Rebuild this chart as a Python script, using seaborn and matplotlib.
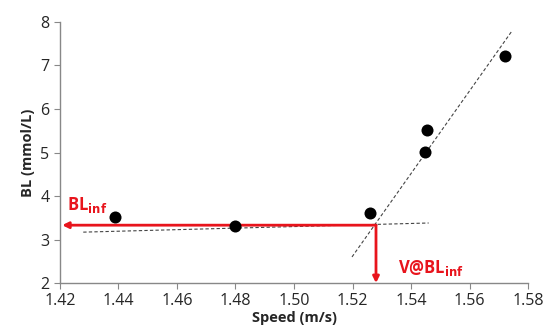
import matplotlib
matplotlib.use("Agg")
import numpy as np
import pandas as pd
import matplotlib.pyplot as plt
import seaborn as sns

# Data
speed = [1.439, 1.480, 1.526, 1.5448, 1.5455, 1.572]
lactate = [3.52, 3.31, 3.61, 5.01, 5.52, 7.22]

# Trend line endpoints (baseline and steep segment)
base_x = [1.428, 1.546]
base_y = [3.17, 3.38]
steep_x = [1.5198, 1.5742]
steep_y = [2.60, 7.77]

# Threshold (intersection)
v_bl_inf = 1.528
bl_inf = 3.33

x_ticks = [1.42, 1.44, 1.46, 1.48, 1.50, 1.52, 1.54, 1.56, 1.58]
y_ticks = [2, 3, 4, 5, 6, 7, 8]

sns.set_style("white")
plt.rcParams["font.family"] = ["Open Sans", "DejaVu Sans"]

df = pd.DataFrame({"Speed": speed, "BL": lactate})

fig = plt.figure(figsize=(5.44, 3.33), dpi=100)
ax = fig.add_axes([0.110, 0.150, 0.861, 0.784])

ax.plot(base_x, base_y, color="#444444", linestyle=(0, (3, 2)), linewidth=0.8)
ax.plot(steep_x, steep_y, color="#444444", linestyle=(0, (3, 2)), linewidth=0.8)

red = "#e8141c"
ax.annotate("", xy=(x_ticks[0] + 0.0008, bl_inf), xytext=(v_bl_inf, bl_inf),
            arrowprops=dict(arrowstyle="-|>", color=red, lw=2,
                            mutation_scale=9, shrinkA=0, shrinkB=0))
ax.annotate("", xy=(v_bl_inf, y_ticks[0]), xytext=(v_bl_inf, bl_inf),
            arrowprops=dict(arrowstyle="-|>", color=red, lw=2,
                            mutation_scale=9, shrinkA=0, shrinkB=0))

sns.scatterplot(data=df, x="Speed", y="BL", color="black", s=75,
                edgecolor="black", linewidth=0, ax=ax, zorder=5)

ax.text(1.4225, 3.8, r"BL$_{\mathbf{inf}}$", color=red, fontsize=12,
        fontweight="bold", ha="left", va="center")
ax.text(1.5355, 2.35, r"V@BL$_{\mathbf{inf}}$", color=red, fontsize=12,
        fontweight="bold", ha="left", va="center")

ax.set_xlim(x_ticks[0], x_ticks[-1])
ax.set_ylim(y_ticks[0], y_ticks[-1])
ax.set_xticks(x_ticks)
ax.set_xticklabels([f"{t:.2f}" for t in x_ticks])
ax.set_yticks(y_ticks)
ax.tick_params(axis="both", labelsize=11.5, length=4, color="#888888",
               direction="out", bottom=True, left=True)
ax.set_xlabel("Speed (m/s)", fontsize=10.5, fontweight="bold", labelpad=1)
ax.set_ylabel("BL (mmol/L)", fontsize=10.5, fontweight="bold", labelpad=4)

for side in ["top", "right"]:
    ax.spines[side].set_visible(False)
for side in ["left", "bottom"]:
    ax.spines[side].set_color("#888888")
    ax.spines[side].set_linewidth(1)

fig.savefig("out.png", dpi=100)
